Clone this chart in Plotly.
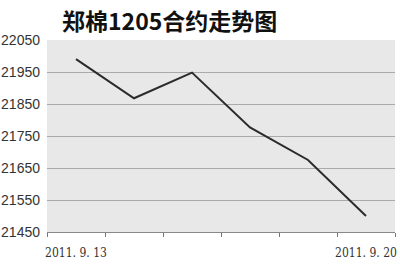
import plotly.graph_objects as go

dates = ["2011.9.13", "2011.9.14", "2011.9.15", "2011.9.16", "2011.9.19", "2011.9.20"]
prices = [21990, 21868, 21948, 21777, 21675, 21500]
tick_text = ["2011. 9. 13", "", "", "", "", "2011. 9. 20"]
y_ticks = [21450, 21550, 21650, 21750, 21850, 21950, 22050]

fig = go.Figure()
fig.add_trace(go.Scatter(x=dates, y=prices, mode="lines",
                         line=dict(color="#2b2b2b", width=2)))

fig.update_layout(
    width=400, height=266,
    margin=dict(l=47, r=5, t=40, b=34),
    paper_bgcolor="white", plot_bgcolor="#e8e8e8",
    showlegend=False,
    title=dict(text="<b>郑棉1205合约走势图</b>", x=62/400, xanchor="left",
               y=1 - 22/266, yanchor="middle",
               font=dict(family="Noto Sans CJK SC", size=23, color="#111111")),
)
fig.update_xaxes(type="category", tickmode="array", tickvals=dates, ticktext=tick_text,
                 tickson="boundaries", ticks="outside", ticklen=4, tickcolor="#777777",
                 tickangle=0, automargin=False, ticklabelstandoff=10,
                 showgrid=False, showline=True, linecolor="#888888", linewidth=1,
                 tickfont=dict(family="DejaVu Serif Condensed, Liberation Serif", size=12, color="#333333"),
                 range=[-0.5, 5.5])
fig.update_yaxes(range=[21450, 22050], tickvals=y_ticks, tickformat="d", showgrid=True,
                 gridcolor="#aaaaaa", automargin=False, ticklabelstandoff=6,
                 gridwidth=1, zeroline=False, showline=False, ticks="",
                 tickfont=dict(family="Liberation Sans Narrow, Liberation Sans", size=14, color="#333333"))
fig.write_html("out.html")
